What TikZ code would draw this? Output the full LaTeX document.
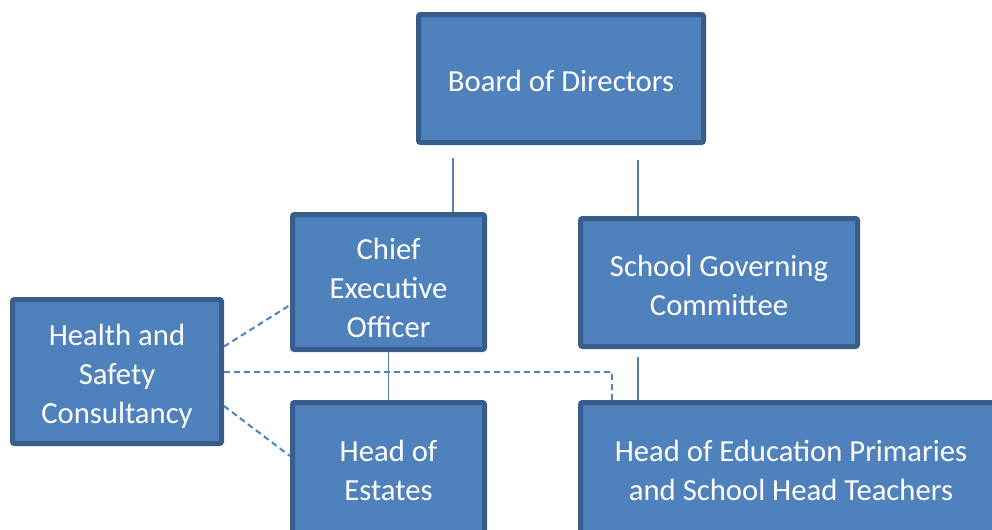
\documentclass[tikz,border=0pt]{standalone}
\usepackage{fontspec}
\setmainfont{Carlito}
\usetikzlibrary{calc}
\definecolor{boxFill}{RGB}{79, 129, 189}
\definecolor{boxEdge}{RGB}{56, 93, 138}
\definecolor{lineBlue}{RGB}{79, 129, 189}

\begin{document}
\begin{tikzpicture}[x=0.75pt, y=-0.75pt,
    orgbox/.style={draw=boxEdge, fill=boxFill, line width=3.75pt, rounded corners=1.5pt,
      text=white, align=center, inner sep=0pt,
      font=\fontsize{23}{29.25}\selectfont},
    lowtext/.style={text height=#1, text depth=0pt},
    link/.style={draw=lineBlue, line width=1.2pt},
    dashlink/.style={draw=lineBlue, line width=1.5pt, dash pattern=on 4.5pt off 3pt}]
    \useasboundingbox (0,0) rectangle (992,529);
    \clip (0,0) rectangle (992,529);

    \node[orgbox, lowtext=19pt, minimum width=213.75pt, minimum height=96pt] (board) at (561,78.5) {Board of Directors};
    \node[orgbox, lowtext=83pt, minimum width=144pt, minimum height=101.25pt] (ceo) at (388.5,282) {Chief\\Executive\\Officer};
    \node[orgbox, lowtext=49pt, minimum width=207.75pt, minimum height=96pt] (sgc) at (719,282.5) {School Governing\\Committee};
    \node[orgbox, lowtext=78.5pt, minimum width=156.75pt, minimum height=108pt] (hsc) at (117,371.5) {Health and\\Safety\\Consultancy};
    \node[orgbox, minimum width=144pt, minimum height=101.25pt] (estates) at (388.5,470) {Head of\\Estates};
    \node[orgbox, minimum width=315.75pt, minimum height=101.25pt] (hoe) at (791,470) {Head of Education Primaries\\and School Head Teachers};

    % reporting lines
    \coordinate (b1) at (453,158);
    \coordinate (b2) at (638,160);
    \coordinate (s1) at (638,357);
    \draw[link] (b1) -- (b1 |- ceo.north);
    \draw[link] (b2) -- (b2 |- sgc.north);
    \draw[link] (ceo.south) -- (estates.north);
    \draw[link] (s1) -- (s1 |- hoe.north);

    % advisory lines
    \draw[dashlink] ($(hsc.east)+(0,-25)$) -- ($(ceo.west)+(0,23)$);
    \draw[dashlink] ($(hsc.east)+(0,34.5)$) -- ($(estates.west)+(0,-14)$);
    \draw[dashlink] (hsc.east) -| ($(hoe.north west)+(33.5,0)$);
\end{tikzpicture}
\end{document}
